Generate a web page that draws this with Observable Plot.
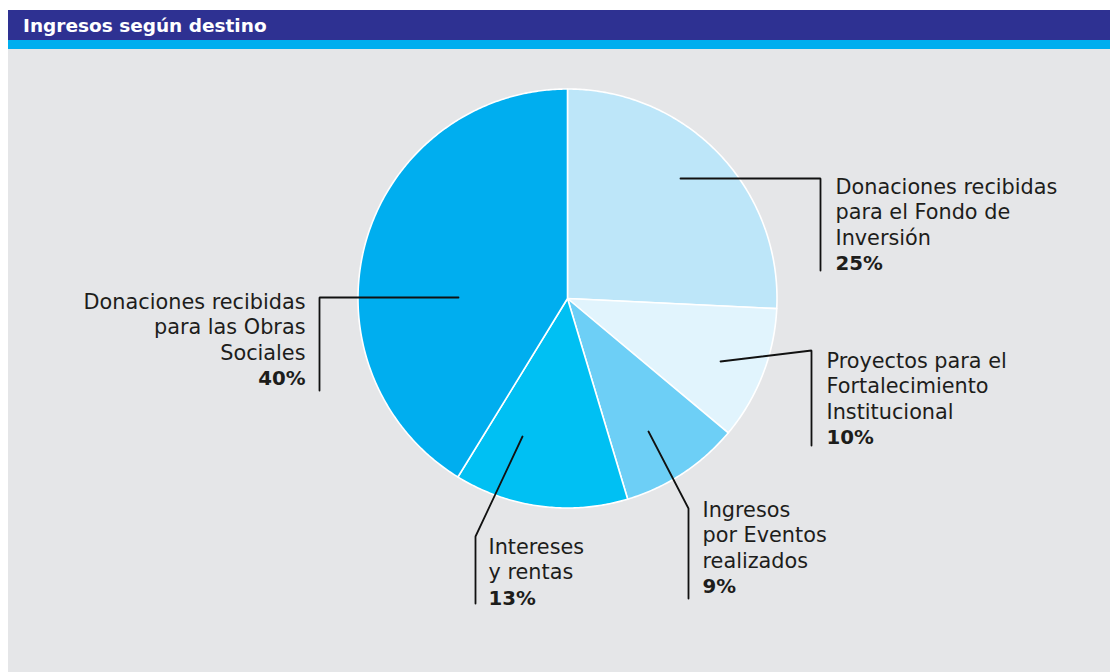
<!DOCTYPE html>
<html><head><meta charset="utf-8">
<script src="https://cdn.jsdelivr.net/npm/d3@7"></script>
<script src="https://cdn.jsdelivr.net/npm/@observablehq/plot@0.6"></script>
<style>
html,body{margin:0;padding:0;background:#fff;width:1110px;height:672px;overflow:hidden;font-family:"DejaVu Sans",sans-serif}
#header{position:absolute;left:8px;top:10px;width:1102px;height:30px;background:#2E3192;color:#fff;font-weight:700;font-size:18.5px;line-height:31px;padding-left:15px;box-sizing:border-box}
#stripe{position:absolute;left:8px;top:40px;width:1102px;height:9px;background:#00AEEF}
#panel{position:absolute;left:8px;top:49px;width:1102px;height:623px;background:#E5E6E8}
#chart{position:absolute;left:0;top:49px}
</style></head>
<body>
<div id="header">Ingresos según destino</div><div id="stripe"></div><div id="panel"></div><div id="chart"></div>
<script>
// ---- data ----
const categories = [
  "Donaciones recibidas para el Fondo de Inversión",
  "Proyectos para el Fortalecimiento Institucional",
  "Ingresos por Eventos realizados",
  "Intereses y rentas",
  "Donaciones recibidas para las Obras Sociales"
];
const values = [25, 10, 9, 13, 40];
const labelLines = [
  ["Donaciones recibidas", "para el Fondo de", "Inversión"],
  ["Proyectos para el", "Fortalecimiento", "Institucional"],
  ["Ingresos", "por Eventos", "realizados"],
  ["Intereses", "y rentas"],
  ["Donaciones recibidas", "para las Obras", "Sociales"]
];
const percentLabels = ["25%", "10%", "9%", "13%", "40%"];

// ---- style / layout ----
const sliceColors = ["#BDE6F9", "#E1F4FD", "#6DCFF6", "#00C0F3", "#00AEEF"];
const W = 1110, TOP = 49, H = 672 - TOP;
const cx = 567, cy = 298, R = 209.5;
const FS = 20.8, LH = 25.5;
const labelLayout = [
  {x: 835, base: 193, anchor: "start", leader: [[680,178],[820,178],[820,270]]},
  {x: 826, base: 367, anchor: "start", leader: [[720,361],[811,350],[811,445]]},
  {x: 702, base: 516, anchor: "start", leader: [[648,431],[688,508],[688,598]]},
  {x: 488, base: 553, anchor: "start", leader: [[522,436],[475,536],[475,603]]},
  {x: 305, base: 308, anchor: "end",   leader: [[458,297],[319,297],[319,390]]}
];

// ---- pie geometry ----
const arcs = d3.pie().sort(null).startAngle(0).endAngle(2 * Math.PI)(values);
const slicePts = [];
arcs.forEach((a, i) => {
  const cat = categories[i];
  slicePts.push({cat, x: cx, y: cy});
  const n = Math.max(2, Math.ceil((a.endAngle - a.startAngle) / 0.01));
  for (let k = 0; k <= n; k++) {
    const t = a.startAngle + (a.endAngle - a.startAngle) * k / n;
    slicePts.push({cat, x: cx + R * Math.sin(t), y: cy - R * Math.cos(t)});
  }
  slicePts.push({cat, x: cx, y: cy});
});

const leaderPts = [];
labelLayout.forEach((l, i) => l.leader.forEach(([x, y]) => leaderPts.push({cat: categories[i], x, y})));

const nameRows = [], pctRows = [];
labelLayout.forEach((l, i) => {
  const lines = labelLines[i];
  nameRows.push({text: lines.join("\n"), x: l.x, y: l.base + LH * (lines.length - 1), anchor: l.anchor});
  pctRows.push({text: percentLabels[i], x: l.x, y: l.base + LH * lines.length, anchor: l.anchor});
});

const textOpts = (rows, anchor, weight, fs) => Plot.text(rows.filter(d => d.anchor === anchor), {
  x: "x", y: "y", text: "text", textAnchor: anchor, lineAnchor: "bottom",
  lineHeight: LH / fs, fontSize: fs, fontWeight: weight, fill: "#1d1d1b",
  fontFamily: "DejaVu Sans"
});

const chart = Plot.plot({
  width: W, height: H,
  margin: 0,
  x: {domain: [0, W], range: [0, W], axis: null},
  y: {domain: [TOP, 672], range: [0, H], axis: null},
  color: {domain: categories, range: sliceColors},
  style: {background: "transparent", overflow: "visible"},
  marks: [
    Plot.line(slicePts, {x: "x", y: "y", z: "cat", fill: "cat", stroke: "white", strokeWidth: 1.6, strokeLinejoin: "round"}),
    Plot.line(leaderPts, {x: "x", y: "y", z: "cat", stroke: "#111", strokeWidth: 1.8, strokeLinejoin: "miter"}),
    textOpts(nameRows, "start", 400, FS),
    textOpts(nameRows, "end", 400, FS),
    textOpts(pctRows, "start", 700, FS - 1),
    textOpts(pctRows, "end", 700, FS - 1)
  ]
});
document.getElementById("chart").appendChild(chart);
</script>
</body></html>
